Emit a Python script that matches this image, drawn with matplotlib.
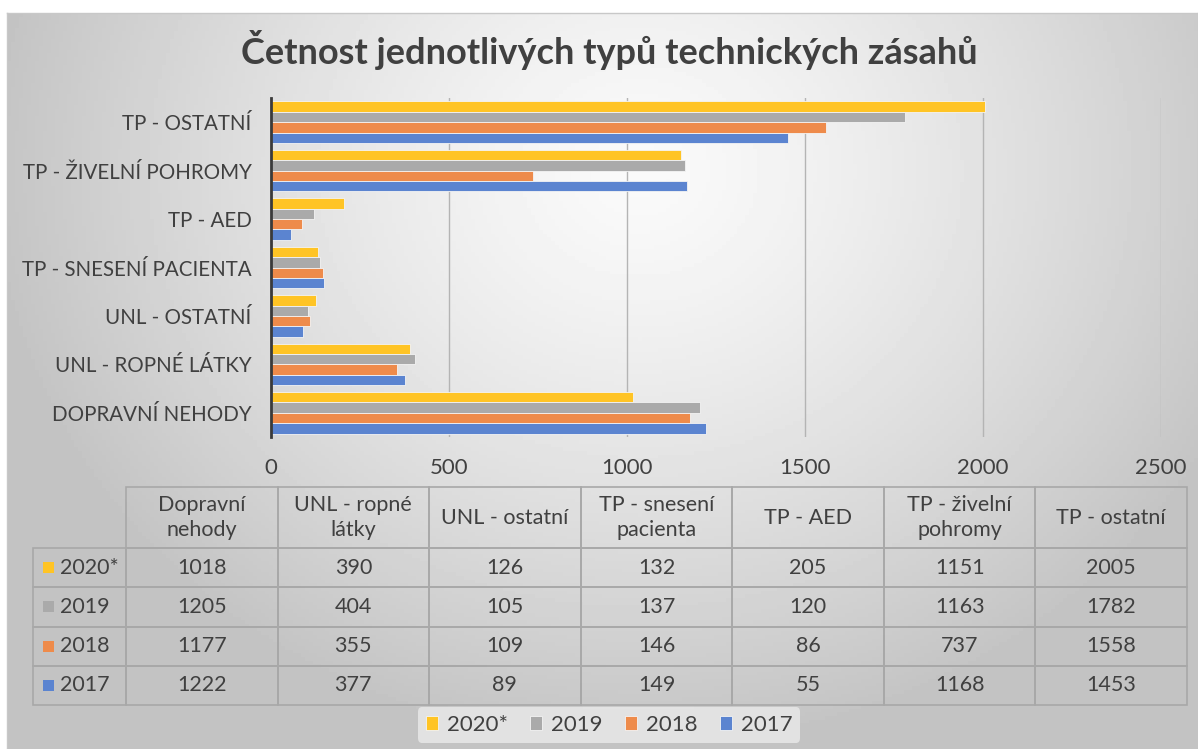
import numpy as np
import matplotlib.pyplot as plt
from matplotlib.patches import Rectangle

# data
categories = ['Dopravní nehody', 'UNL - ropné látky', 'UNL - ostatní',
              'TP - snesení pacienta', 'TP - AED', 'TP - živelní pohromy', 'TP - ostatní']
header_labels = ['Dopravní\nnehody', 'UNL - ropné\nlátky', 'UNL - ostatní',
                 'TP - snesení\npacienta', 'TP - AED', 'TP - živelní\npohromy', 'TP - ostatní']
years = ['2020*', '2019', '2018', '2017']
v2020 = [1018, 390, 126, 132, 205, 1151, 2005]
v2019 = [1205, 404, 105, 137, 120, 1163, 1782]
v2018 = [1177, 355, 109, 146, 86, 737, 1558]
v2017 = [1222, 377, 89, 149, 55, 1168, 1453]
series = [v2020, v2019, v2018, v2017]
colors = ['#ffc425', '#aaaaaa', '#ee8b4b', '#5b84d0']
xticks = [0, 500, 1000, 1500, 2000, 2500]

plt.rcParams['font.family'] = ['Lato', 'DejaVu Sans']
text_col = '#404040'

W, H = 1198, 749
fig = plt.figure(figsize=(W / 100, H / 100), dpi=100)
fig.patch.set_facecolor('white')


def fx(px):
    return px / W


def fy(py):
    return 1 - py / H


# gradient background
bg = fig.add_axes([fx(7), 0, fx(W - 7), fy(13)])
gx, gy = np.meshgrid(np.linspace(7, W, 300), np.linspace(13, H, 200))
r = np.sqrt(((gx - 640) / 720) ** 2 + ((gy - 170) / 640) ** 2)
shade = np.clip(250 - 62 * r ** 1.3, 195, 250) / 255
bg.imshow(shade, cmap='gray', vmin=0, vmax=1, aspect='auto',
          extent=[0, 1, 0, 1], origin='upper')
bg.set_xticks([])
bg.set_yticks([])
for s in bg.spines.values():
    s.set_color('#c8c8c8')
    s.set_linewidth(1)
bg.set_zorder(-10)

# title
fig.text(fx(609), fy(50), 'Četnost jednotlivých typů technických zásahů',
         ha='center', va='center', fontsize=26, fontweight='bold', color=text_col)

# bar chart
ax = fig.add_axes([fx(271), fy(437), fx(1161 - 271), fy(98) - fy(437)])
ax.patch.set_alpha(0)
y = np.arange(len(categories))
h = 0.215
offsets = [1.5, 0.5, -0.5, -1.5]
bars = []
for vals, col, off, yr in zip(series, colors, offsets, years):
    b = ax.barh(y + off * h, vals, height=h, color=col, edgecolor='#f4f4f4',
                linewidth=0.6, label=yr, zorder=3)
    bars.append(b)
ax.set_xlim(0, 2500)
ax.set_ylim(-0.5, len(categories) - 0.5)
ax.set_xticks(xticks)
ax.set_xticklabels([str(t) for t in xticks], fontsize=16, color=text_col)
ax.set_yticks(y)
ax.set_yticklabels([c.upper() for c in categories], fontsize=14.8, color=text_col)
ax.tick_params(axis='x', length=0, pad=15)
ax.tick_params(axis='y', length=0, pad=14)
ax.grid(axis='x', color='#b4b4b4', linewidth=1, zorder=0)
for s in ['top', 'right', 'bottom']:
    ax.spines[s].set_visible(False)
ax.spines['left'].set_color('#3a3a3a')
ax.spines['left'].set_linewidth(2)
ax.spines['left'].set_zorder(4)

# data table
tl, tr, tt, tb = 33, 1187, 487, 705
tax = fig.add_axes([fx(tl), fy(tb), fx(tr - tl), fy(tt) - fy(tb)])
tax.axis('off')
label_w = 93
col_w = (tr - tl - label_w) / len(categories)
cell_text = [[yr] + [str(v) for v in vals] for yr, vals in zip(years, series)]
tbl = tax.table(cellText=cell_text, colLabels=[''] + header_labels,
                colWidths=[label_w] + [col_w] * len(categories),
                cellLoc='center', bbox=[0, 0, 1, 1])
tbl.auto_set_font_size(False)
head_h, row_h = 61, (tb - tt - 61) / 4
for (rr, cc), cell in tbl.get_celld().items():
    cell.set_facecolor('none')
    cell.set_edgecolor('#a8a8a8')
    cell.set_linewidth(1.2)
    cell.set_height(head_h if rr == 0 else row_h)
    cell.get_text().set_color(text_col)
    cell.get_text().set_fontsize(15.5)
    cell.get_text().set_linespacing(1.35)
    if cc == 0:
        cell.set_text_props(ha='left')
        cell.PAD = 0.29
tbl[0, 0].set_edgecolor('none')
tbl[0, 0].visible_edges = ''

# legend key squares in the table row labels
total_h = tb - tt
for i, col in enumerate(colors):
    cy = (tb - (tt + head_h + (i + 0.5) * row_h))
    tax.add_patch(Rectangle(((43 - tl) / (tr - tl), (cy - 5.5) / total_h),
                            11 / (tr - tl), 11 / total_h, facecolor=col,
                            edgecolor='none', transform=tax.transAxes, zorder=5))

# legend
leg = fig.legend(handles=bars, labels=years, loc='center', ncol=4,
                 bbox_to_anchor=(fx(609), fy(725)), frameon=True,
                 fontsize=16, handlelength=0.55, handleheight=0.55,
                 handletextpad=0.4, columnspacing=1.0, borderpad=0.35)
leg.get_frame().set_facecolor('#e6e6e6')
leg.get_frame().set_edgecolor('none')
leg.get_frame().set_alpha(0.9)
for t in leg.get_texts():
    t.set_color(text_col)

fig.savefig('out.png', dpi=100)
